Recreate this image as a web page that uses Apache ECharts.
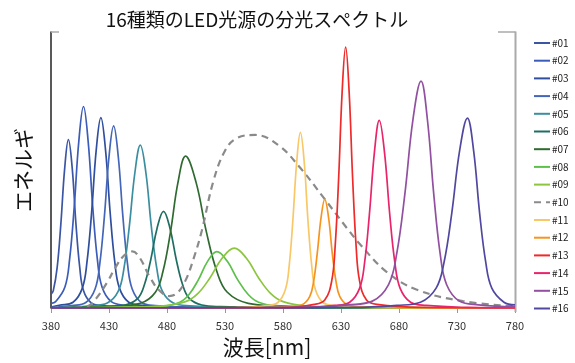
<!DOCTYPE html>
<html><head><meta charset="utf-8">
<script src="https://cdn.jsdelivr.net/npm/echarts@6/dist/echarts.min.js"></script>
<style>html,body{margin:0;padding:0;background:#fff}#c{width:575px;height:363px}</style>
</head><body><div id="c"></div>
<script>
const seriesNames = ['#01','#02','#03','#04','#05','#06','#07','#08','#09','#10','#11','#12','#13','#14','#15','#16'];
const xTicks = {min: 380, max: 780, step: 50};
const led01 = [[380,0.05],[382,0.063],[385.3,0.146],[388.5,0.305],[391.8,0.506],[395,0.61],[398.3,0.506],[401.5,0.305],[404.8,0.146],[408,0.063],[414.5,0.019],[424.3,0.0085],[450,0.003],[780,0]];
const led02 = [[380,0.017],[384,0.023],[392,0.076],[396,0.175],[400,0.365],[404,0.605],[408,0.73],[412,0.605],[416,0.365],[420,0.175],[424,0.076],[432,0.023],[444,0.01],[480,0.002],[780,0]];
const led03 = [[380,0.003],[387,0.01],[399,0.021],[407,0.072],[411,0.166],[415,0.345],[419,0.573],[423,0.69],[427,0.573],[431,0.345],[435,0.166],[439,0.072],[447,0.021],[459,0.01],[500,0.002],[780,0]];
const led04 = [[380,0.002],[398,0.009],[410,0.02],[418,0.069],[422,0.158],[426,0.33],[430,0.548],[434,0.66],[438,0.548],[442,0.33],[446,0.158],[450,0.069],[458,0.02],[470,0.009],[510,0.002],[780,0]];
const led05 = [[380,0],[414.3,0.008],[428.5,0.018],[438,0.061],[442.8,0.141],[447.5,0.295],[452.3,0.49],[457,0.59],[461.8,0.49],[466.5,0.295],[471.3,0.141],[476,0.061],[485.5,0.018],[499.8,0.008],[540,0.002],[780,0]];
const led06 = [[380,0],[427.5,0.005],[444,0.011],[455,0.036],[460.5,0.084],[466,0.175],[471.5,0.29],[477,0.35],[482.5,0.29],[488,0.175],[493.5,0.084],[499,0.036],[510,0.011],[526.5,0.005],[570,0.001],[780,0]];
const led07 = [[380,0],[437.5,0.008],[457,0.017],[470,0.057],[476.5,0.132],[483,0.275],[489.5,0.456],[496,0.55],[505,0.456],[514,0.275],[523,0.132],[532,0.057],[550,0.017],[577,0.008],[620,0.002],[780,0]];
const led08 = [[380,0],[451,0.003],[475,0.006],[491,0.021],[499,0.049],[507,0.102],[515,0.169],[523,0.204],[532,0.169],[541,0.102],[550,0.049],[559,0.021],[577,0.006],[604,0.003],[650,0.001],[780,0]];
const led09 = [[380,0],[443.5,0.003],[475,0.007],[496,0.023],[506.5,0.052],[517,0.109],[527.5,0.18],[538,0.217],[548.5,0.18],[559,0.109],[569.5,0.052],[580,0.023],[601,0.007],[632.5,0.003],[690,0.001],[780,0]];
const led10 = [[380,0],[400,0.001],[410,0.004],[418,0.03],[428,0.09],[436,0.15],[443,0.19],[450,0.205],[456,0.185],[465,0.114],[473,0.065],[482,0.043],[489,0.055],[496,0.1],[503,0.18],[510,0.28],[520,0.46],[530,0.57],[540,0.615],[556,0.627],[576,0.59],[595,0.507],[615,0.4],[635,0.29],[646,0.233],[669,0.132],[695,0.067],[735,0.025],[780,0.006]];
const led11 = [[380,0],[540,0.001],[565.8,0.009],[575.5,0.02],[582,0.066],[585.3,0.152],[588.5,0.318],[591.8,0.528],[595,0.636],[598.3,0.528],[601.5,0.318],[604.8,0.152],[608,0.066],[614.5,0.02],[624.3,0.009],[660,0.001],[780,0]];
const led12 = [[380,0],[560,0.001],[586.8,0.0055],[596.5,0.012],[603,0.041],[606.3,0.094],[609.5,0.197],[612.8,0.327],[616,0.394],[619.3,0.327],[622.5,0.197],[625.8,0.094],[629,0.041],[635.5,0.012],[645.3,0.0055],[680,0.001],[780,0]];
const led13 = [[380,0],[580,0.001],[607,0.013],[616,0.029],[622,0.098],[625,0.226],[628,0.473],[631,0.784],[634,0.945],[637,0.784],[640,0.473],[643,0.226],[646,0.098],[652,0.029],[661,0.013],[700,0.002],[780,0]];
const led14 = [[380,0],[590,0.001],[624.8,0.0095],[637.5,0.021],[646,0.071],[650.3,0.163],[654.5,0.34],[658.8,0.564],[663,0.68],[667.5,0.564],[672,0.34],[676.5,0.163],[681,0.071],[690,0.021],[703.5,0.0095],[740,0.002],[780,0]];
const led15 = [[380,0],[600,0.002],[636,0.0115],[657,0.025],[671,0.085],[678,0.196],[685,0.411],[692,0.682],[699,0.822],[704.5,0.682],[710,0.411],[715.5,0.196],[721,0.085],[732,0.025],[748.5,0.0115],[780,0.004]];
const led16 = [[380,0],[640,0.002],[678.3,0.0096],[698.5,0.021],[712,0.072],[718.8,0.165],[725.5,0.344],[732.3,0.571],[739,0.688],[744.3,0.571],[749.5,0.344],[754.8,0.165],[760,0.072],[770.5,0.021],[780,0.011]];

const allData = [led01,led02,led03,led04,led05,led06,led07,led08,led09,led10,led11,led12,led13,led14,led15,led16];
const colors = ['#3a55a4','#3b5cb8','#2f4f9e','#4466b8','#3a8ea0','#1f6e62','#2f6a30','#5cc04a','#8cc63e','#8a8a8a','#f8c867','#f7941e','#ee2a2a','#e9246a','#9150a0','#5048a0'];
const FONT = '"Noto Sans CJK JP", "Noto Sans", sans-serif';

const chart = echarts.init(document.getElementById('c'), null, {renderer: 'canvas'});
const series = allData.map((d, i) => ({
  name: seriesNames[i],
  type: 'line',
  data: d,
  smooth: 0.4,
  symbol: 'none',
  color: colors[i],
  lineStyle: {width: i === 9 ? 2.2 : 1.7, color: colors[i], type: i === 9 ? [7, 5] : 'solid'},
  z: 2 + i
}));

chart.setOption({
  animation: false,
  textStyle: {fontFamily: FONT},
  title: {
    text: '16種類のLED光源の分光スペクトル',
    left: 252, textAlign: 'center', top: 5,
    textStyle: {fontSize: 19, fontWeight: 'normal', color: '#111', fontFamily: FONT}
  },
  legend: {
    orient: 'vertical', left: 528, top: 33,
    itemWidth: 16, itemHeight: 10, itemGap: 7.7,
    itemStyle: {opacity: 0},
    lineStyle: {width: 2},
    textStyle: {fontSize: 10, color: '#222', fontFamily: FONT, padding: [0, 0, 0, -3]},
    data: seriesNames
  },
  grid: {left: 51, right: 60, top: 32, bottom: 51, containLabel: false},
  xAxis: {
    type: 'value', min: xTicks.min, max: xTicks.max, interval: xTicks.step,
    name: '波長[nm]', nameLocation: 'middle', nameGap: 29,
    nameTextStyle: {fontSize: 21, color: '#111', fontFamily: FONT, padding: [0, 32, 0, 0]},
    axisLine: {show: true, lineStyle: {color: '#999', width: 1}},
    axisTick: {show: true, inside: false, length: 5, lineStyle: {color: '#999'}},
    axisLabel: {fontSize: 11, color: '#333', margin: 12, fontFamily: FONT},
    splitLine: {show: false}
  },
  yAxis: {
    type: 'value', min: 0, max: 1,
    name: 'エネルギ', nameLocation: 'middle', nameGap: 17,
    nameTextStyle: {fontSize: 21, color: '#111', fontFamily: FONT},
    axisLine: {show: true, lineStyle: {color: '#222', width: 1.5}},
    axisTick: {show: false}, axisLabel: {show: false}, splitLine: {show: false}
  },
  graphic: [
    {type: 'line', shape: {x1: 51, y1: 32, x2: 59, y2: 32}, style: {stroke: '#aaa', lineWidth: 1.5}, z: 1},
    {type: 'line', shape: {x1: 498, y1: 32, x2: 515.5, y2: 32}, style: {stroke: '#aaa', lineWidth: 1.5}, z: 1},
    {type: 'line', shape: {x1: 515.5, y1: 31.5, x2: 515.5, y2: 312}, style: {stroke: '#aaa', lineWidth: 2}, z: 1}
  ],
  series: series
});
</script></body></html>
